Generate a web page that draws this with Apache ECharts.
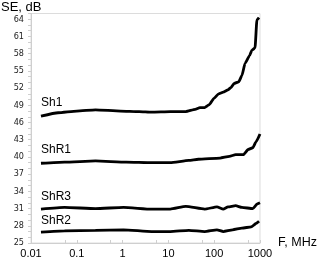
<!DOCTYPE html>
<html><head><meta charset="utf-8">
<script src="https://cdn.jsdelivr.net/npm/echarts@6/dist/echarts.min.js"></script>
<style>html,body{margin:0;padding:0;background:#fff}#c{width:320px;height:267px}</style>
</head><body><div id="c"></div>
<script>
const xTicks = [0.01, 0.1, 1, 10, 100, 1000];
const seriesNames = ['Sh1', 'ShR1', 'ShR3', 'ShR2'];
const sh1Freq = [0.0165,0.039,0.1,0.256,0.9,2.3,4.3,11,24,38.5,48.8,61.7,78,98.6,125,158,200,233,272,344,404,471,597,664,780,857,955];
const sh1SE   = [47.1,47.7,48.0,48.2,48.0,47.9,47.8,47.9,47.9,48.3,48.6,48.6,49.1,50.2,51.0,51.3,51.7,52.1,52.8,53.1,54.2,56.3,57.7,58.6,59.0,63.9,64.3];
const shR1Freq = [0.0165,0.054,0.256,1.2,4.3,11,28,45,134,215,294,435,551,697,817,1000];
const shR1SE   = [38.9,39.1,39.3,39.1,39.0,39.0,39.4,39.6,39.8,40.1,40.4,40.4,41.3,41.6,42.6,44.0];
const shR3Freq = [0.0165,0.054,0.256,1.05,4.3,11,24,61.7,115,158,200,294,404,697,866,1000];
const shR3SE   = [30.9,31.2,31.0,31.2,30.9,30.9,31.4,30.9,31.3,30.9,31.3,31.5,31.2,31.0,31.8,32.0];
const shR2Freq = [0.0165,0.054,0.256,1.05,4.3,11,28,61.7,115,158,252,404,646,817,955];
const shR2SE   = [26.9,27.1,27.2,27.3,27.0,27.0,27.2,27.0,27.3,27.0,27.3,27.6,27.8,28.4,28.8];

const freqs = [sh1Freq, shR1Freq, shR3Freq, shR2Freq];
const vals = [sh1SE, shR1SE, shR3SE, shR2SE];
const labelDist = [7, 7, 6, 5];
const FONT = "'Liberation Sans', Arial, sans-serif";

const series = seriesNames.map((name, k) => ({
  name, type: 'line', showSymbol: false, symbol: 'none', smooth: 0.15, smoothMonotone: 'x',
  lineStyle: {color: '#000', width: 2.8},
  data: freqs[k].map((f, i) => [f, vals[k][i]]),
  markPoint: {
    symbol: 'circle', symbolSize: 1, itemStyle: {color: 'rgba(0,0,0,0)'}, silent: true,
    data: [{coord: [freqs[k][0], vals[k][0]],
      label: {show: true, formatter: name, position: 'top', align: 'left',
        distance: labelDist[k], color: '#000', fontSize: 12, fontFamily: FONT}}]
  }
}));

const chart = echarts.init(document.getElementById('c'), null, {renderer: 'canvas'});
chart.setOption({
  animation: false,
  backgroundColor: '#fff',
  title: {text: 'SE, dB', left: 1, top: 1, padding: 0,
    textStyle: {fontSize: 13, fontWeight: 'normal', color: '#000', fontFamily: FONT}},
  grid: {left: 31, right: 44, top: 13.5, bottom: 24, show: true, borderColor: '#dcdcdc', borderWidth: 1},
  xAxis: {
    type: 'log', logBase: 10, min: xTicks[0], max: xTicks[xTicks.length - 1],
    name: 'F, MHz', nameLocation: 'end', nameGap: 3,
    nameTextStyle: {fontSize: 12.5, color: '#000', align: 'left', verticalAlign: 'middle', fontFamily: FONT},
    axisLine: {lineStyle: {color: '#cfcfcf'}},
    axisTick: {inside: true, length: 3, lineStyle: {color: '#cfcfcf'}},
    minorTick: {show: true, splitNumber: 2, length: 3, lineStyle: {color: '#cfcfcf'}},
    splitLine: {show: false},
    axisLabel: {fontSize: 11, color: '#000', margin: 5, fontFamily: FONT,
      formatter: v => String(+v.toPrecision(3))}
  },
  yAxis: {
    type: 'value', min: 25, max: 65, interval: 3,
    axisLine: {show: true, lineStyle: {color: '#cfcfcf'}},
    axisTick: {show: true, length: 3, lineStyle: {color: '#cfcfcf'}},
    minorTick: {show: true, splitNumber: 3, length: 3, lineStyle: {color: '#cfcfcf'}},
    splitLine: {show: false},
    axisLabel: {fontSize: 9, color: '#222', margin: 7, showMaxLabel: false,
      fontFamily: "'Liberation Sans Narrow', 'DejaVu Sans Condensed', sans-serif"}
  },
  series
});
</script></body></html>
